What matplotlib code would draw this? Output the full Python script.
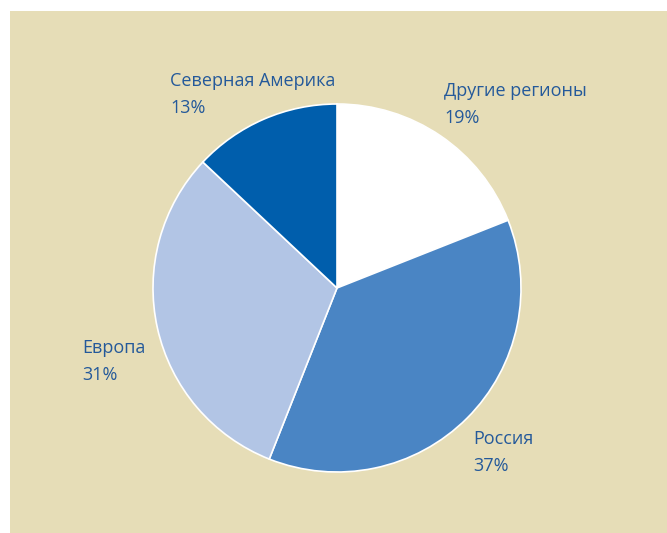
import matplotlib.pyplot as plt
from matplotlib.patches import Rectangle

# Regional shares, clockwise from 12 o'clock
regions = ['Другие регионы', 'Россия', 'Европа', 'Северная Америка']
shares = [19, 37, 31, 13]
colors = ['#ffffff', '#4a85c4', '#b2c5e5', '#005eac']

# label anchor points (pixels, top-left of the first line)
label_pos = [(444, 82), (473, 430), (82, 339), (170, 72)]

W, H = 667, 533
fig = plt.figure(figsize=(W / 100, H / 100), dpi=100, facecolor='white')
ax = fig.add_axes([0, 0, 1, 1])

ax.add_patch(Rectangle((10, 0), W - 10, H - 11, facecolor='#e6ddb7',
                       edgecolor='none', zorder=0))

ax.pie(shares, colors=colors, startangle=90, counterclock=False,
       center=(337, H - 288), radius=184, frame=True,
       wedgeprops=dict(edgecolor='white', linewidth=1.2))
ax.set_xlim(0, W)
ax.set_ylim(0, H)
ax.set_aspect('equal')
ax.axis('off')

for name, val, (x, y) in zip(regions, shares, label_pos):
    ax.text(x, H - y, f'{name}\n{val}%', ha='left', va='top',
            fontsize=13, color='#24599a', family='Open Sans',
            linespacing=1.65)

fig.savefig('out.png', dpi=100)
